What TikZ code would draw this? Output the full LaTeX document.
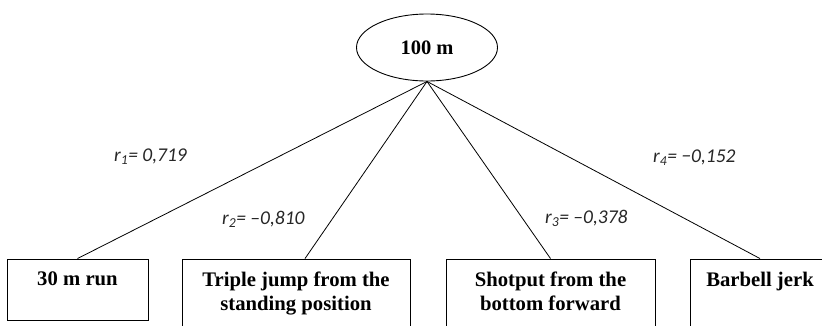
\documentclass[tikz,border=0pt]{standalone}
\usepackage{fontspec}
\setmainfont{Liberation Serif}
\newfontfamily\lblfont{Carlito}
\usetikzlibrary{shapes.geometric,calc}
\tikzset{
  boxstyle/.style={draw, line width=0.9pt, rectangle, inner sep=0pt},
  boxtext/.style={anchor=north, inner sep=0pt, align=center, font=\bfseries\fontsize{20.7}{24}\selectfont},
  ovalstyle/.style={draw, line width=0.9pt, ellipse, inner sep=0pt, font=\bfseries\fontsize{20.5}{24}\selectfont},
  linkline/.style={line width=0.8pt},
  rlabel/.style={anchor=base west, inner sep=0pt, font=\lblfont\itshape\fontsize{19.5}{22}\selectfont, text=black!85}
}
\begin{document}
\begin{tikzpicture}[x=1pt,y=-1pt]
\useasboundingbox (0,0) rectangle (822,325);
\clip (0,0) rectangle (822,325);
\node[ovalstyle, minimum width=141pt, minimum height=67pt] (top) at (427,47.5) {100 m};
\node[boxstyle, minimum width=141pt, minimum height=61pt] (b1) at (77.5,289.5) {};
\node[boxstyle, minimum width=228pt, minimum height=90pt] (b2) at (296,304) {};
\node[boxstyle, minimum width=209pt, minimum height=90pt] (b3) at (550.5,304) {};
\node[boxstyle, minimum width=140pt, minimum height=90pt] (b4) at (760,304) {};
\node[boxtext] (t1) at ($(b1.north)+(0,13)$) {30 m run};
\node[boxtext] (t2) at ($(b2.north)+(0,13)$) {Triple jump from the\\standing position};
\node[boxtext] (t3) at ($(b3.north)+(0,13)$) {Shotput from the\\bottom forward};
\node[boxtext] (t4) at ($(b4.north)+(0,13)$) {Barbell jerk};
\draw[linkline] (top.south) -- (b1.north);
\draw[linkline] (top.south) -- ($(b2.north)+(9,0)$);
\draw[linkline] (top.south) -- (b3.north);
\draw[linkline] (top.south) -- (b4.north);
\node[rlabel] (r1) at (114,161) {r\textsubscript{1}= 0,719};
\node[rlabel] (r2) at (222,224) {r\textsubscript{2}= –0,810};
\node[rlabel] (r3) at (545,223) {r\textsubscript{3}= –0,378};
\node[rlabel] (r4) at (653,162) {r\textsubscript{4}= −0,152};
\end{tikzpicture}
\end{document}
